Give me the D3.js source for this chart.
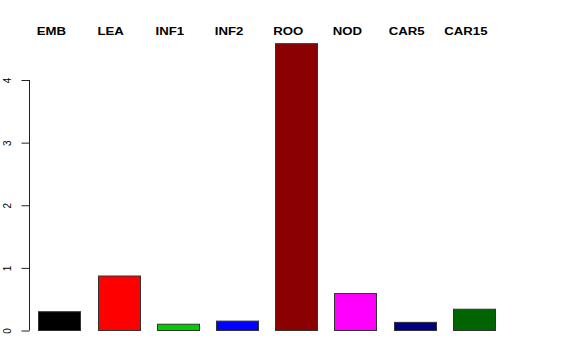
<!DOCTYPE html>
<html><head><meta charset="utf-8">
<script src="https://cdn.jsdelivr.net/npm/d3@7"></script>
<style>body{margin:0;background:#fff}svg{display:block}</style>
</head><body><svg id="c" width="576" height="360"></svg>
<script>
const categories = ["EMB","LEA","INF1","INF2","ROO","NOD","CAR5","CAR15"];
const values = [0.30, 0.87, 0.10, 0.15, 4.58, 0.59, 0.13, 0.34];
const colors = ["#000000","#FF0000","#00CD00","#0000FF","#8B0000","#FF00FF","#000080","#006400"];
const yTicks = [0,1,2,3,4];

const svg = d3.select("#c");
const x = d3.scaleBand().domain(categories).range([38.3, 495]).paddingInner(0.2857).paddingOuter(0);
const y = d3.scaleLinear().domain([0,4]).range([330.5, 80]);

svg.selectAll("rect.bar").data(categories).join("rect")
  .attr("class","bar")
  .attr("x", d => Math.round(x(d)) + 0.5)
  .attr("width", Math.round(x.bandwidth()))
  .attr("y", (d,i) => y(values[i]))
  .attr("height", (d,i) => y(0) - y(values[i]))
  .attr("fill", (d,i) => colors[i])
  .attr("stroke", "#333")
  .attr("stroke-width", 1);

const ax = svg.append("g").attr("transform","translate(29.5,0)")
  .call(d3.axisLeft(y).tickValues(yTicks).tickSize(8).tickFormat(d3.format("d")));
ax.select(".domain").attr("stroke","#222").attr("d","M0,80V330.5");
ax.selectAll(".tick line").attr("stroke","#222");
ax.selectAll(".tick text")
  .attr("font-family","Liberation Sans, Arial, sans-serif")
  .attr("font-size","10px").attr("fill","#000")
  .attr("x", null).attr("dy", null)
  .attr("text-anchor","middle")
  .attr("transform","translate(-19,0) rotate(-90)");

svg.selectAll("text.lab").data(categories).join("text")
  .attr("class","lab")
  .attr("transform", d => `translate(${x(d) + x.bandwidth()/2 - 8},34.5) scale(1.2,1)`)
  .attr("text-anchor","middle")
  .attr("font-family","Liberation Sans, Arial, sans-serif")
  .attr("font-weight","bold")
  .attr("font-size","11px")
  .text(d => d);
</script></body></html>
